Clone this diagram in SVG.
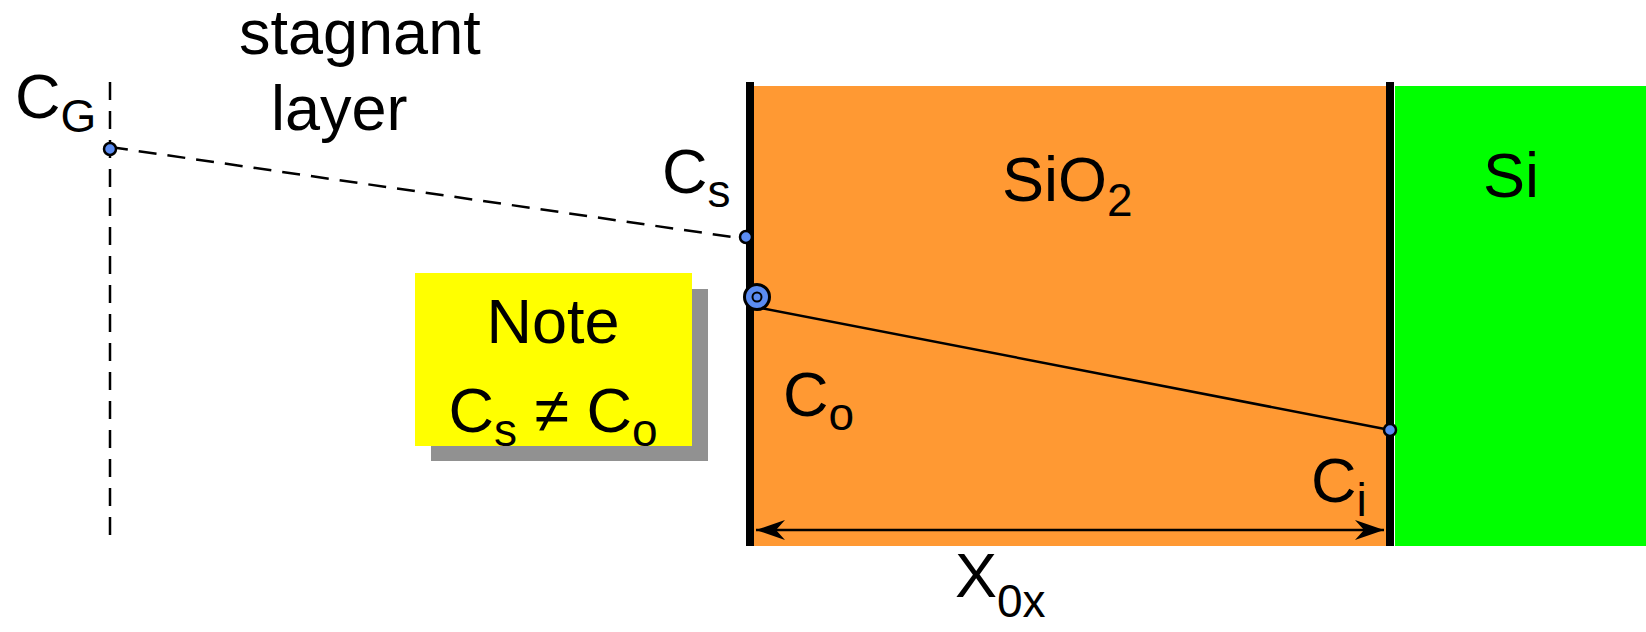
<svg xmlns="http://www.w3.org/2000/svg" width="1646" height="632" viewBox="0 0 1646 632">
<style>
text{font-family:"Liberation Sans",Arial,sans-serif;font-size:63px;fill:#000}
.sub{font-size:46px}
.dot{fill:#5b8cf2;stroke:#000;stroke-width:2.5}
.dash{stroke:#000;stroke-width:2.5;stroke-dasharray:18 11;fill:none}
</style>
<defs>
<marker id="ah" markerWidth="30" markerHeight="22" refX="29" refY="11" orient="auto-start-reverse" markerUnits="userSpaceOnUse">
<path d="M0,1 L29,11 L0,21 L9,11 Z" fill="#000"/>
</marker>
</defs>
<rect width="1646" height="632" fill="#fff"/>
<g id="sio2">
<rect x="754" y="86" width="634" height="460" fill="#ff9933"/>
<text x="1002" y="201">SiO<tspan class="sub" dy="15">2</tspan></text>
</g>
<g id="si">
<rect x="1395" y="86" width="251" height="460" fill="#00ff00"/>
<text x="1483" y="197">Si</text>
</g>
<g id="walls">
<rect x="746" y="82" width="8" height="464" fill="#000"/>
<rect x="1386" y="82" width="8" height="464" fill="#000"/>
</g>
<g id="note">
<rect x="431" y="289" width="277" height="172" fill="#919191"/>
<rect x="415" y="273" width="277" height="173" fill="#ffff00"/>
<text x="553" y="343" text-anchor="middle">Note</text>
<text x="553" y="432" text-anchor="middle">C<tspan class="sub" dy="14">s</tspan><tspan dy="-14"> ≠ C</tspan><tspan class="sub" dy="14">o</tspan></text>
</g>
<g id="labels">
<text x="239" y="54">stagnant</text>
<text x="271" y="130">layer</text>
<text x="15" y="118">C<tspan class="sub" dy="14">G</tspan></text>
<text x="662" y="193">C<tspan class="sub" dy="14">s</tspan></text>
<text x="783" y="416">C<tspan class="sub" dy="14">o</tspan></text>
<text x="1311" y="502">C<tspan class="sub" dy="14">i</tspan></text>
<text x="955" y="597">X<tspan class="sub" dy="20">0x</tspan></text>
</g>
<g id="connectors">
<line class="dash" x1="110" y1="82" x2="110" y2="546"/>
<line class="dash" x1="110" y1="147" x2="746" y2="239"/>
<line x1="756" y1="307" x2="1390" y2="430" stroke="#000" stroke-width="2.5"/>
<line x1="756" y1="530" x2="1384" y2="530" stroke="#000" stroke-width="2.5" marker-start="url(#ah)" marker-end="url(#ah)"/>
</g>
<g id="points">
<circle class="dot" cx="110" cy="149" r="6"/>
<circle class="dot" cx="746" cy="237" r="6"/>
<circle class="dot" cx="1390" cy="430" r="6"/>
<circle cx="757" cy="297" r="12.5" fill="#5b8cf2" stroke="#000" stroke-width="3"/>
<circle cx="757" cy="297" r="4.5" fill="#5b8cf2" stroke="#000" stroke-width="2"/>
</g>
</svg>
